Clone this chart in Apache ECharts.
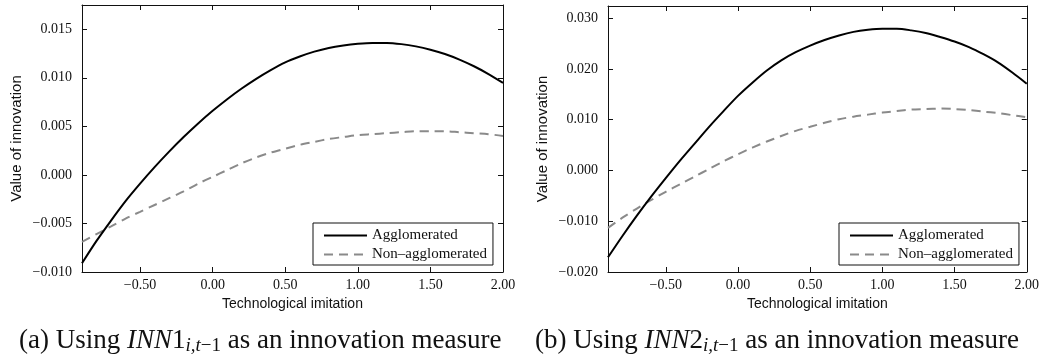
<!DOCTYPE html>
<html>
<head>
<meta charset="utf-8">
<script src="https://cdn.jsdelivr.net/npm/echarts@6/dist/echarts.min.js"></script>
<style>
html,body{margin:0;padding:0;background:#fff;}
#c{width:1042px;height:354px;}
</style>
</head>
<body>
<div id="c"></div>
<script>
// ---- data ----
const xValues = [-0.9,-0.8,-0.7,-0.6,-0.5,-0.4,-0.3,-0.2,-0.1,0.0,0.1,0.2,0.3,0.4,0.5,0.6,0.7,0.8,0.9,1.0,1.1,1.2,1.3,1.4,1.5,1.6,1.7,1.8,1.9,2.0];
// panel (a) INN1
const aggA = [-0.0091,-0.0068,-0.0047,-0.0027,-0.0009,0.0008,0.0024,0.0039,0.0053,0.0066,0.0078,0.0089,0.0099,0.0108,0.0116,0.0122,0.0127,0.01308,0.01333,0.01350,0.01359,0.01359,0.01347,0.01324,0.01290,0.01245,0.01188,0.01119,0.01039,0.00948];
const nonA = [-0.0069,-0.0061,-0.0053,-0.0045,-0.0038,-0.0031,-0.0024,-0.0017,-0.0009,-0.0002,0.0005,0.0012,0.0018,0.0023,0.0027,0.0031,0.0034,0.0037,0.0039,0.0041,0.0042,0.0043,0.0044,0.0045,0.0045,0.0045,0.0044,0.0043,0.0042,0.0040];
// panel (b) INN2
const aggB = [-0.0171,-0.0129,-0.0089,-0.0051,-0.0015,0.0020,0.0053,0.0086,0.0117,0.0147,0.0173,0.0197,0.0217,0.0233,0.0246,0.0257,0.0266,0.0273,0.0277,0.0279,0.0279,0.0276,0.0271,0.0263,0.0254,0.0243,0.0229,0.0213,0.0193,0.0171];
const nonB = [-0.0113,-0.0093,-0.0075,-0.0058,-0.0042,-0.0027,-0.0012,0.0003,0.0018,0.0032,0.0045,0.0057,0.0068,0.0078,0.0086,0.0094,0.0101,0.0106,0.0110,0.0114,0.0117,0.0120,0.0121,0.0122,0.0121,0.0119,0.0116,0.0113,0.0109,0.0105];

const xTicks = [-0.5,0.0,0.5,1.0,1.5,2.0];
const yTicksA = [-0.010,-0.005,0.000,0.005,0.010,0.015];
const yTicksB = [-0.020,-0.010,0.000,0.010,0.020,0.030];
const seriesNames = ['Agglomerated','Non\u2013agglomerated'];
const xTitle = 'Technological imitation';
const yTitle = 'Value of innovation';

// ---- chart ----
const serif = 'Liberation Serif';
const sans = 'Liberation Sans';
const fmt = (d) => (v) => v.toFixed(d).replace('-', '\u2212');
const pairs = (ys) => xValues.map((x, i) => [x, ys[i]]);

function xAxis(grid, pos) {
  const bottom = pos === 'bottom';
  return {
    type: 'value', gridIndex: grid, position: pos, min: -0.9, max: 2.0,
    axisLine: { show: true, onZero: false, lineStyle: { color: '#111', width: 1 } },
    axisTick: { show: true, inside: true, length: 5, customValues: xTicks, lineStyle: { color: '#111' } },
    axisLabel: { show: bottom, customValues: xTicks, formatter: fmt(2), color: '#111',
      fontFamily: serif, fontSize: 14, margin: 6 },
    splitLine: { show: false },
    name: bottom ? xTitle : '', nameLocation: 'middle', nameGap: 16,
    nameTextStyle: { fontFamily: sans, fontSize: 14, color: '#111' }
  };
}
function yAxis(grid, pos, min, max, ticks) {
  const left = pos === 'left';
  return {
    type: 'value', gridIndex: grid, position: pos, min: min, max: max,
    axisLine: { show: true, onZero: false, lineStyle: { color: '#111', width: 1 } },
    axisTick: { show: true, inside: true, length: 5, customValues: ticks, lineStyle: { color: '#111' } },
    axisLabel: { show: left, customValues: ticks, formatter: fmt(3), color: '#111',
      fontFamily: serif, fontSize: 14, margin: 10 },
    splitLine: { show: false },
    name: left ? yTitle : '', nameLocation: 'middle', nameGap: 58,
    nameTextStyle: { fontFamily: sans, fontSize: 15, color: '#111' }
  };
}
function legend(left) {
  return {
    left: left, top: 223, orient: 'vertical', itemWidth: 43, itemHeight: 14, itemGap: 4,
    padding: [5, 6, 3, 10], borderColor: '#111', borderWidth: 1, backgroundColor: '#fff',
    selectedMode: false, data: seriesNames,
    itemStyle: { opacity: 0 },
    textStyle: { fontFamily: serif, fontSize: 15, color: '#111' }
  };
}
function lineSeries(name, data, xi, yi, dashed) {
  return {
    type: 'line', name: name, data: data, xAxisIndex: xi, yAxisIndex: yi,
    symbol: 'none', smooth: 0.3, silent: true, animation: false, z: dashed ? 2 : 3,
    lineStyle: dashed ? { color: '#8a8a8a', width: 2, type: [9, 6] } : { color: '#000', width: 2 },
    itemStyle: { color: dashed ? '#8a8a8a' : '#000' }
  };
}
function caption(letter, num, left) {
  return {
    type: 'text', left: left, top: 327,
    style: {
      text: '{n|(' + letter + ') Using }{i|INN}{n|' + num + '}{si|i,t}{s|\u22121}{n| as an innovation measure}',
      rich: {
        n: { fontFamily: serif, fontSize: 27, lineHeight: 30, fill: '#111' },
        i: { fontFamily: serif, fontStyle: 'italic', fontSize: 27, lineHeight: 30, fill: '#111' },
        si: { fontFamily: serif, fontStyle: 'italic', fontSize: 19, lineHeight: 14, verticalAlign: 'bottom', fill: '#111' },
        s: { fontFamily: serif, fontSize: 19, lineHeight: 14, verticalAlign: 'bottom', fill: '#111' }
      }
    }
  };
}

const chart = echarts.init(document.getElementById('c'), null, { renderer: 'canvas' });
chart.setOption({
  backgroundColor: '#fff',
  animation: false,
  grid: [
    { left: 82, top: 5, width: 421, height: 267, containLabel: false },
    { left: 608, top: 6, width: 421, height: 266, containLabel: false }
  ],
  xAxis: [xAxis(0, 'bottom'), xAxis(0, 'top'), xAxis(1, 'bottom'), xAxis(1, 'top')],
  yAxis: [
    yAxis(0, 'left', -0.010, 0.0175, yTicksA), yAxis(0, 'right', -0.010, 0.0175, yTicksA),
    yAxis(1, 'left', -0.020, 0.0324, yTicksB), yAxis(1, 'right', -0.020, 0.0324, yTicksB)
  ],
  legend: [legend(313), legend(839)],
  series: [
    lineSeries(seriesNames[0], pairs(aggA), 0, 0, false),
    lineSeries(seriesNames[1], pairs(nonA), 0, 0, true),
    lineSeries(seriesNames[0], pairs(aggB), 2, 2, false),
    lineSeries(seriesNames[1], pairs(nonB), 2, 2, true)
  ],
  graphic: [caption('a', '1', 19), caption('b', '2', 535)]
});
</script>
</body>
</html>
